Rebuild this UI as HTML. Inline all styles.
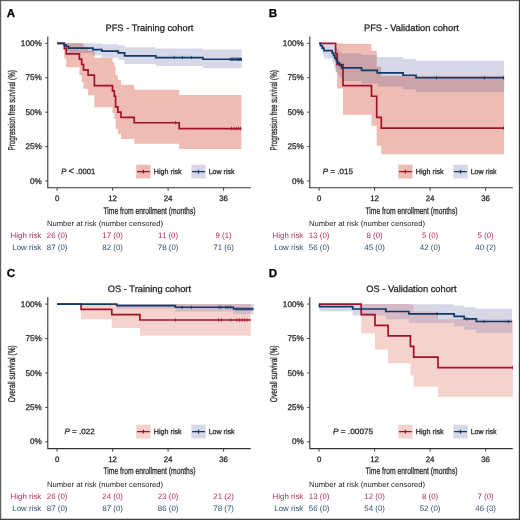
<!DOCTYPE html>
<html><head><meta charset="utf-8"><style>
html,body{margin:0;padding:0;background:#fff;}
svg{display:block;font-family:"Liberation Sans", sans-serif;will-change:transform;text-rendering:geometricPrecision;}
text{stroke-width:0.25px;paint-order:stroke;}
</style></head><body>
<svg width="520" height="520" viewBox="0 0 520 520">
<rect x="0" y="0" width="520" height="520" fill="#fff"/>
<g transform="translate(0,0)">
<text x="6.8" y="16.7" font-size="11.6" font-weight="bold" fill="#000" stroke="#000" stroke-width="0.3">A</text>
<text x="149.4" y="30.8" font-size="9.3" text-anchor="middle" fill="#222222" stroke="#222222" stroke-width="0.12">PFS - Training cohort</text>
<path d="M57.10,43.30H64.30V43.30H66.30V43.30H79.40V43.30H81.70V43.73H83.50V46.84H88.10V50.25H94.40V57.82H112.50V61.91H114.30V66.17H115.60V75.16H117.90V79.88H121.00V84.74H134.20V89.74H179.20V95.06H241.40V149.01H179.20V143.81H134.20V139.04H121.00V134.12H117.90V129.06H115.60V118.47H114.30V112.93H112.50V107.22H94.40V95.19H88.10V88.80H83.50V82.10H81.70V74.98H79.40V67.24H66.30V58.39H64.30V43.30H57.10Z" fill="rgb(238,188,178)"/>
<path d="M57.10,43.30H64.10V43.30H66.00V43.30H68.50V43.30H93.00V43.43H102.00V44.30H118.20V45.25H124.60V47.31H155.80V48.41H203.00V49.59H241.70V68.22H203.00V66.05H155.80V64.05H124.60V59.92H118.20V57.78H102.00V55.55H93.00V53.22H68.50V50.73H66.00V47.93H64.10V43.30H57.10Z" fill="rgb(214,216,232)"/>
<path d="M64.30,43.30H66.00V47.93H64.30ZM66.00,43.30H66.30V50.73H66.00ZM66.30,43.30H68.50V50.73H66.30ZM68.50,43.30H79.40V53.22H68.50ZM79.40,43.30H81.70V53.22H79.40ZM81.70,43.73H83.50V53.22H81.70ZM83.50,46.84H88.10V53.22H83.50ZM88.10,50.25H93.00V53.22H88.10ZM93.00,50.25H94.40V55.55H93.00Z" fill="rgb(203,162,168)"/>
<path d="M57.10,43.30H64.30V48.60H66.30V53.89H79.40V59.19H81.70V64.48H83.50V69.78H88.10V75.08H94.40V85.67H112.50V90.97H114.30V96.26H115.60V106.85H117.90V112.15H121.00V117.45H134.20V122.74H179.20V128.57H241.40" fill="none" stroke="#A3112B" stroke-width="1.7"/><path d="M175.50,121.04V124.44M231.50,126.87V130.27M234.00,126.87V130.27M236.50,126.87V130.27M238.50,126.87V130.27M240.50,126.87V130.27" stroke="#A3112B" stroke-width="0.8" fill="none"/>
<path d="M57.10,43.30H64.10V44.88H66.00V46.47H68.50V48.05H93.00V49.63H102.00V51.21H118.20V52.80H124.60V55.96H155.80V57.54H203.00V59.26H241.70" fill="none" stroke="#103A66" stroke-width="1.7"/><path d="M174.20,55.84V59.24M182.40,55.84V59.24M191.40,55.84V59.24M230.20,57.56V60.96M231.30,57.56V60.96M232.50,57.56V60.96M233.80,57.56V60.96M235.00,57.56V60.96M236.20,57.56V60.96M237.30,57.56V60.96M238.50,57.56V60.96M239.60,57.56V60.96M240.70,57.56V60.96M241.50,57.56V60.96" stroke="#103A66" stroke-width="0.8" fill="none"/>
<path d="M47.8,36.5V187.8H250.8" fill="none" stroke="#333333" stroke-width="1.1"/>
<path d="M45.2,43.30H47.8M45.2,77.73H47.8M45.2,112.15H47.8M45.2,146.57H47.8M45.2,181.00H47.8M57.10,187.8V190.8M112.60,187.8V190.8M168.10,187.8V190.8M223.60,187.8V190.8" stroke="#333333" stroke-width="0.9"/>
<text x="41.8" y="46.00" font-size="8.2" text-anchor="end" fill="#222222"  stroke="#222222" stroke-width="0.12">100%</text>
<text x="41.8" y="80.43" font-size="8.2" text-anchor="end" fill="#222222"  stroke="#222222" stroke-width="0.12">75%</text>
<text x="41.8" y="114.85" font-size="8.2" text-anchor="end" fill="#222222"  stroke="#222222" stroke-width="0.12">50%</text>
<text x="41.8" y="149.27" font-size="8.2" text-anchor="end" fill="#222222"  stroke="#222222" stroke-width="0.12">25%</text>
<text x="41.8" y="183.70" font-size="8.2" text-anchor="end" fill="#222222"  stroke="#222222" stroke-width="0.12">0%</text>
<text x="57.10" y="200.9" font-size="7.9" text-anchor="middle" fill="#222222" stroke="#222222" stroke-width="0.12">0</text>
<text x="112.60" y="200.9" font-size="7.9" text-anchor="middle" fill="#222222" stroke="#222222" stroke-width="0.12">12</text>
<text x="168.10" y="200.9" font-size="7.9" text-anchor="middle" fill="#222222" stroke="#222222" stroke-width="0.12">24</text>
<text x="223.60" y="200.9" font-size="7.9" text-anchor="middle" fill="#222222" stroke="#222222" stroke-width="0.12">36</text>
<text x="149.5" y="213.6" font-size="9.5" text-anchor="middle" fill="#222222" textLength="92" lengthAdjust="spacingAndGlyphs" stroke="#222222">Time from enrollment (months)</text>
<text transform="translate(14.8,110.3) rotate(-90)" font-size="9.8" text-anchor="middle" fill="#222222" textLength="80.2" lengthAdjust="spacingAndGlyphs" stroke="#222222">Progression free survival (%)</text>
<text x="61.30" y="174.10" font-size="7.7" fill="#222222" textLength="33.90" lengthAdjust="spacingAndGlyphs" stroke="#222222" stroke-width="0.12"><tspan font-style="italic">P</tspan> <tspan font-size="9.4"><</tspan> .0001</text>
<g transform="translate(0,0)">
<rect x="136.2" y="164.7" width="14.4" height="13.8" fill="rgb(238,188,178)"/>
<path d="M137,171.6H149.8M143.4,169.7V173.5" stroke="#A3112B" stroke-width="1.3"/>
<text x="153.8" y="174.4" font-size="7.3" fill="#222222" textLength="27.9" lengthAdjust="spacingAndGlyphs" stroke="#222222" stroke-width="0.12">High risk</text>
<rect x="191.3" y="164.7" width="14.4" height="13.8" fill="rgb(214,216,232)"/>
<path d="M192.1,171.6H204.9M198.5,169.7V173.5" stroke="#103A66" stroke-width="1.3"/>
<text x="208.7" y="174.4" font-size="7.3" fill="#222222" textLength="25.9" lengthAdjust="spacingAndGlyphs" stroke="#222222" stroke-width="0.12">Low risk</text>
</g>
<text x="47" y="226.4" font-size="7.6" fill="#222222" textLength="116" lengthAdjust="spacingAndGlyphs">Number at risk (number censored)</text>
<text x="41.3" y="238.4" font-size="7.9" text-anchor="end" fill="#B03054">High risk</text>
<text x="41.3" y="250.4" font-size="7.9" text-anchor="end" fill="#2E5170">Low risk</text>
<text x="57.10" y="238.4" font-size="7.9" text-anchor="middle" fill="#B03054">26 (0)</text>
<text x="112.60" y="238.4" font-size="7.9" text-anchor="middle" fill="#B03054">17 (0)</text>
<text x="168.10" y="238.4" font-size="7.9" text-anchor="middle" fill="#B03054">11 (0)</text>
<text x="223.60" y="238.4" font-size="7.9" text-anchor="middle" fill="#B03054">9 (1)</text>
<text x="57.10" y="250.4" font-size="7.9" text-anchor="middle" fill="#2E5170">87 (0)</text>
<text x="112.60" y="250.4" font-size="7.9" text-anchor="middle" fill="#2E5170">82 (0)</text>
<text x="168.10" y="250.4" font-size="7.9" text-anchor="middle" fill="#2E5170">78 (0)</text>
<text x="223.60" y="250.4" font-size="7.9" text-anchor="middle" fill="#2E5170">71 (6)</text>
</g><g transform="translate(262,0)">
<text x="6.8" y="16.7" font-size="11.6" font-weight="bold" fill="#000" stroke="#000" stroke-width="0.3">B</text>
<text x="149.4" y="30.8" font-size="9.3" text-anchor="middle" fill="#222222" stroke="#222222" stroke-width="0.12">PFS - Validation cohort</text>
<path d="M57.10,43.30H73.60V43.30H75.10V43.30H81.00V44.03H109.50V50.77H114.70V66.67H119.30V75.66H242.10V154.37H119.30V145.67H114.70V125.86H109.50V114.65H81.00V88.59H75.10V72.35H73.60V43.30H57.10Z" fill="rgb(238,188,178)"/>
<path d="M57.10,43.30H58.50V43.30H60.30V43.30H62.00V43.30H70.20V43.50H71.50V44.88H72.80V46.38H74.20V47.97H75.60V49.65H77.50V51.40H79.50V53.20H99.60V55.05H115.20V56.95H141.10V58.89H154.10V60.87H242.10V92.22H154.10V89.45H141.10V86.64H115.20V83.79H99.60V80.89H79.50V77.95H77.50V74.94H75.60V71.87H74.20V68.72H72.80V65.47H71.50V62.09H70.20V58.55H62.00V54.74H60.30V50.45H58.50V43.30H57.10Z" fill="rgb(214,216,232)"/>
<path d="M73.60,46.38H74.20V68.72H73.60ZM74.20,47.97H75.10V71.87H74.20ZM75.10,47.97H75.60V71.87H75.10ZM75.60,49.65H77.50V74.94H75.60ZM77.50,51.40H79.50V77.95H77.50ZM79.50,53.20H81.00V80.89H79.50ZM81.00,53.20H99.60V80.89H81.00ZM99.60,55.05H109.50V83.79H99.60ZM109.50,55.05H114.70V83.79H109.50ZM114.70,66.67H115.20V83.79H114.70ZM115.20,66.67H119.30V86.64H115.20ZM119.30,75.66H141.10V86.64H119.30ZM141.10,75.66H154.10V89.45H141.10ZM154.10,75.66H242.10V92.22H154.10Z" fill="rgb(203,162,168)"/>
<path d="M57.10,43.30H73.60V53.89H75.10V64.48H81.00V85.67H109.50V96.26H114.70V117.45H119.30V128.04H242.10" fill="none" stroke="#A3112B" stroke-width="1.7"/><path d="M241.50,126.34V129.74" stroke="#A3112B" stroke-width="0.8" fill="none"/>
<path d="M57.10,43.30H58.50V45.76H60.30V48.22H62.00V50.68H70.20V53.14H71.50V55.59H72.80V58.05H74.20V60.51H75.60V62.97H77.50V65.43H79.50V67.89H99.60V70.35H115.20V72.81H141.10V75.27H154.10V77.73H242.10" fill="none" stroke="#103A66" stroke-width="1.7"/><path d="M174.50,76.03V79.43M222.40,76.03V79.43M241.50,76.03V79.43" stroke="#103A66" stroke-width="0.8" fill="none"/>
<path d="M47.8,36.5V187.8H250.8" fill="none" stroke="#333333" stroke-width="1.1"/>
<path d="M45.2,43.30H47.8M45.2,77.73H47.8M45.2,112.15H47.8M45.2,146.57H47.8M45.2,181.00H47.8M57.10,187.8V190.8M112.60,187.8V190.8M168.10,187.8V190.8M223.60,187.8V190.8" stroke="#333333" stroke-width="0.9"/>
<text x="41.8" y="46.00" font-size="8.2" text-anchor="end" fill="#222222"  stroke="#222222" stroke-width="0.12">100%</text>
<text x="41.8" y="80.43" font-size="8.2" text-anchor="end" fill="#222222"  stroke="#222222" stroke-width="0.12">75%</text>
<text x="41.8" y="114.85" font-size="8.2" text-anchor="end" fill="#222222"  stroke="#222222" stroke-width="0.12">50%</text>
<text x="41.8" y="149.27" font-size="8.2" text-anchor="end" fill="#222222"  stroke="#222222" stroke-width="0.12">25%</text>
<text x="41.8" y="183.70" font-size="8.2" text-anchor="end" fill="#222222"  stroke="#222222" stroke-width="0.12">0%</text>
<text x="57.10" y="200.9" font-size="7.9" text-anchor="middle" fill="#222222" stroke="#222222" stroke-width="0.12">0</text>
<text x="112.60" y="200.9" font-size="7.9" text-anchor="middle" fill="#222222" stroke="#222222" stroke-width="0.12">12</text>
<text x="168.10" y="200.9" font-size="7.9" text-anchor="middle" fill="#222222" stroke="#222222" stroke-width="0.12">24</text>
<text x="223.60" y="200.9" font-size="7.9" text-anchor="middle" fill="#222222" stroke="#222222" stroke-width="0.12">36</text>
<text x="149.5" y="213.6" font-size="9.5" text-anchor="middle" fill="#222222" textLength="92" lengthAdjust="spacingAndGlyphs" stroke="#222222">Time from enrollment (months)</text>
<text transform="translate(14.8,110.3) rotate(-90)" font-size="9.8" text-anchor="middle" fill="#222222" textLength="80.2" lengthAdjust="spacingAndGlyphs" stroke="#222222">Progression free survival (%)</text>
<text x="60.80" y="174.10" font-size="7.7" fill="#222222" textLength="30.30" lengthAdjust="spacingAndGlyphs" stroke="#222222" stroke-width="0.12"><tspan font-style="italic">P</tspan> <tspan font-size="7.7">=</tspan> .015</text>
<g transform="translate(0,0)">
<rect x="136.2" y="164.7" width="14.4" height="13.8" fill="rgb(238,188,178)"/>
<path d="M137,171.6H149.8M143.4,169.7V173.5" stroke="#A3112B" stroke-width="1.3"/>
<text x="153.8" y="174.4" font-size="7.3" fill="#222222" textLength="27.9" lengthAdjust="spacingAndGlyphs" stroke="#222222" stroke-width="0.12">High risk</text>
<rect x="191.3" y="164.7" width="14.4" height="13.8" fill="rgb(214,216,232)"/>
<path d="M192.1,171.6H204.9M198.5,169.7V173.5" stroke="#103A66" stroke-width="1.3"/>
<text x="208.7" y="174.4" font-size="7.3" fill="#222222" textLength="25.9" lengthAdjust="spacingAndGlyphs" stroke="#222222" stroke-width="0.12">Low risk</text>
</g>
<text x="47" y="226.4" font-size="7.6" fill="#222222" textLength="116" lengthAdjust="spacingAndGlyphs">Number at risk (number censored)</text>
<text x="41.3" y="238.4" font-size="7.9" text-anchor="end" fill="#B03054">High risk</text>
<text x="41.3" y="250.4" font-size="7.9" text-anchor="end" fill="#2E5170">Low risk</text>
<text x="57.10" y="238.4" font-size="7.9" text-anchor="middle" fill="#B03054">13 (0)</text>
<text x="112.60" y="238.4" font-size="7.9" text-anchor="middle" fill="#B03054">8 (0)</text>
<text x="168.10" y="238.4" font-size="7.9" text-anchor="middle" fill="#B03054">5 (0)</text>
<text x="223.60" y="238.4" font-size="7.9" text-anchor="middle" fill="#B03054">5 (0)</text>
<text x="57.10" y="250.4" font-size="7.9" text-anchor="middle" fill="#2E5170">56 (0)</text>
<text x="112.60" y="250.4" font-size="7.9" text-anchor="middle" fill="#2E5170">45 (0)</text>
<text x="168.10" y="250.4" font-size="7.9" text-anchor="middle" fill="#2E5170">42 (0)</text>
<text x="223.60" y="250.4" font-size="7.9" text-anchor="middle" fill="#2E5170">40 (2)</text>
</g><g transform="translate(0,260.8)">
<text x="6.8" y="16.7" font-size="11.6" font-weight="bold" fill="#000" stroke="#000" stroke-width="0.3">C</text>
<text x="149.4" y="30.8" font-size="9.3" text-anchor="middle" fill="#222222" stroke="#222222" stroke-width="0.12">OS - Training cohort</text>
<path d="M57.10,43.30H81.10V43.30H111.80V43.30H139.90V43.30H250.80V74.98H139.90V67.24H111.80V58.39H81.10V43.30H57.10Z" fill="rgb(246,210,205)"/>
<path d="M57.10,43.30H116.80V43.30H175.40V43.30H233.50V43.30H253.70V53.52H233.50V50.73H175.40V47.93H116.80V43.30H57.10Z" fill="rgb(214,216,232)"/>
<path d="M116.80,43.30H139.90V47.93H116.80ZM139.90,43.30H175.40V47.93H139.90ZM175.40,43.30H233.50V50.73H175.40ZM233.50,43.30H250.80V53.52H233.50Z" fill="rgb(213,186,197)"/>
<path d="M57.10,43.30H81.10V48.60H111.80V53.89H139.90V59.19H250.80" fill="none" stroke="#A3112B" stroke-width="1.7"/><path d="M175.40,57.49V60.89M218.50,57.49V60.89M221.40,57.49V60.89M230.70,57.49V60.89M237.00,57.49V60.89M239.50,57.49V60.89M242.00,57.49V60.89M244.50,57.49V60.89M247.00,57.49V60.89" stroke="#A3112B" stroke-width="0.8" fill="none"/>
<path d="M57.10,43.30H116.80V44.88H175.40V46.47H233.50V48.19H253.70" fill="none" stroke="#103A66" stroke-width="1.7"/><path d="M182.00,44.77V48.17M191.30,44.77V48.17M219.20,44.77V48.17M221.00,44.77V48.17M226.00,44.77V48.17M228.00,44.77V48.17M230.70,44.77V48.17M236.00,46.49V49.89M238.00,46.49V49.89M240.00,46.49V49.89M242.00,46.49V49.89M244.00,46.49V49.89M246.00,46.49V49.89M248.00,46.49V49.89M250.00,46.49V49.89M252.00,46.49V49.89" stroke="#103A66" stroke-width="0.8" fill="none"/>
<path d="M47.8,36.5V187.8H250.8" fill="none" stroke="#333333" stroke-width="1.1"/>
<path d="M45.2,43.30H47.8M45.2,77.73H47.8M45.2,112.15H47.8M45.2,146.57H47.8M45.2,181.00H47.8M57.10,187.8V190.8M112.60,187.8V190.8M168.10,187.8V190.8M223.60,187.8V190.8" stroke="#333333" stroke-width="0.9"/>
<text x="41.8" y="46.00" font-size="8.2" text-anchor="end" fill="#222222"  stroke="#222222" stroke-width="0.12">100%</text>
<text x="41.8" y="80.43" font-size="8.2" text-anchor="end" fill="#222222"  stroke="#222222" stroke-width="0.12">75%</text>
<text x="41.8" y="114.85" font-size="8.2" text-anchor="end" fill="#222222"  stroke="#222222" stroke-width="0.12">50%</text>
<text x="41.8" y="149.27" font-size="8.2" text-anchor="end" fill="#222222"  stroke="#222222" stroke-width="0.12">25%</text>
<text x="41.8" y="183.70" font-size="8.2" text-anchor="end" fill="#222222"  stroke="#222222" stroke-width="0.12">0%</text>
<text x="57.10" y="200.9" font-size="7.9" text-anchor="middle" fill="#222222" stroke="#222222" stroke-width="0.12">0</text>
<text x="112.60" y="200.9" font-size="7.9" text-anchor="middle" fill="#222222" stroke="#222222" stroke-width="0.12">12</text>
<text x="168.10" y="200.9" font-size="7.9" text-anchor="middle" fill="#222222" stroke="#222222" stroke-width="0.12">24</text>
<text x="223.60" y="200.9" font-size="7.9" text-anchor="middle" fill="#222222" stroke="#222222" stroke-width="0.12">36</text>
<text x="149.5" y="213.6" font-size="9.5" text-anchor="middle" fill="#222222" textLength="92" lengthAdjust="spacingAndGlyphs" stroke="#222222">Time from enrollment (months)</text>
<text transform="translate(14.8,112.9) rotate(-90)" font-size="9.8" text-anchor="middle" fill="#222222" textLength="57.0" lengthAdjust="spacingAndGlyphs" stroke="#222222">Overall survival (%)</text>
<text x="64.50" y="173.10" font-size="7.7" fill="#222222" textLength="30.30" lengthAdjust="spacingAndGlyphs" stroke="#222222" stroke-width="0.12"><tspan font-style="italic">P</tspan> <tspan font-size="7.7">=</tspan> .022</text>
<g transform="translate(0,-0.8)">
<rect x="136.2" y="164.7" width="14.4" height="13.8" fill="rgb(246,210,205)"/>
<path d="M137,171.6H149.8M143.4,169.7V173.5" stroke="#A3112B" stroke-width="1.3"/>
<text x="153.8" y="174.4" font-size="7.3" fill="#222222" textLength="27.9" lengthAdjust="spacingAndGlyphs" stroke="#222222" stroke-width="0.12">High risk</text>
<rect x="191.3" y="164.7" width="14.4" height="13.8" fill="rgb(214,216,232)"/>
<path d="M192.1,171.6H204.9M198.5,169.7V173.5" stroke="#103A66" stroke-width="1.3"/>
<text x="208.7" y="174.4" font-size="7.3" fill="#222222" textLength="25.9" lengthAdjust="spacingAndGlyphs" stroke="#222222" stroke-width="0.12">Low risk</text>
</g>
<text x="47" y="226.4" font-size="7.6" fill="#222222" textLength="116" lengthAdjust="spacingAndGlyphs">Number at risk (number censored)</text>
<text x="41.3" y="238.4" font-size="7.9" text-anchor="end" fill="#B03054">High risk</text>
<text x="41.3" y="249.8" font-size="7.9" text-anchor="end" fill="#2E5170">Low risk</text>
<text x="57.10" y="238.4" font-size="7.9" text-anchor="middle" fill="#B03054">26 (0)</text>
<text x="112.60" y="238.4" font-size="7.9" text-anchor="middle" fill="#B03054">24 (0)</text>
<text x="168.10" y="238.4" font-size="7.9" text-anchor="middle" fill="#B03054">23 (0)</text>
<text x="223.60" y="238.4" font-size="7.9" text-anchor="middle" fill="#B03054">21 (2)</text>
<text x="57.10" y="249.8" font-size="7.9" text-anchor="middle" fill="#2E5170">87 (0)</text>
<text x="112.60" y="249.8" font-size="7.9" text-anchor="middle" fill="#2E5170">87 (0)</text>
<text x="168.10" y="249.8" font-size="7.9" text-anchor="middle" fill="#2E5170">86 (0)</text>
<text x="223.60" y="249.8" font-size="7.9" text-anchor="middle" fill="#2E5170">78 (7)</text>
</g><g transform="translate(262,260.8)">
<text x="6.8" y="16.7" font-size="11.6" font-weight="bold" fill="#000" stroke="#000" stroke-width="0.3">D</text>
<text x="149.4" y="30.8" font-size="9.3" text-anchor="middle" fill="#222222" stroke="#222222" stroke-width="0.12">OS - Validation cohort</text>
<path d="M57.10,43.30H99.20V43.30H113.00V43.30H126.10V43.30H148.40V44.03H151.70V50.77H176.00V58.35H250.80V136.18H176.00V125.86H151.70V114.65H148.40V102.35H126.10V88.59H113.00V72.35H99.20V43.30H57.10Z" fill="rgb(246,210,205)"/>
<path d="M57.10,43.30H57.50V43.30H90.70V43.30H123.80V43.30H146.80V43.50H192.20V44.88H202.20V46.39H214.30V48.02H250.00V72.19H214.30V68.88H202.20V65.55H192.20V62.09H146.80V58.55H123.80V54.74H90.70V50.45H57.50V43.30H57.10Z" fill="rgb(214,216,232)"/>
<path d="M99.20,43.30H113.00V54.74H99.20ZM113.00,43.30H123.80V54.74H113.00ZM123.80,43.30H126.10V58.55H123.80ZM126.10,43.30H146.80V58.55H126.10ZM146.80,43.50H148.40V62.09H146.80ZM148.40,44.03H151.70V62.09H148.40ZM151.70,50.77H176.00V62.09H151.70ZM176.00,58.35H192.20V62.09H176.00ZM192.20,58.35H202.20V65.55H192.20ZM202.20,58.35H214.30V68.88H202.20ZM214.30,58.35H250.00V72.19H214.30Z" fill="rgb(213,186,197)"/>
<path d="M57.10,43.30H99.20V53.89H113.00V64.48H126.10V75.08H148.40V85.67H151.70V96.26H176.00V106.85H250.80" fill="none" stroke="#A3112B" stroke-width="1.7"/><path d="M250.30,105.15V108.55" stroke="#A3112B" stroke-width="0.8" fill="none"/>
<path d="M57.10,43.30H57.50V45.76H90.70V48.22H123.80V50.68H146.80V53.14H192.20V55.64H202.20V58.15H214.30V60.71H250.00" fill="none" stroke="#103A66" stroke-width="1.7"/><path d="M175.20,51.44V54.84M204.80,56.45V59.85M222.10,59.01V62.41M246.40,59.01V62.41" stroke="#103A66" stroke-width="0.8" fill="none"/>
<path d="M47.8,36.5V187.8H250.8" fill="none" stroke="#333333" stroke-width="1.1"/>
<path d="M45.2,43.30H47.8M45.2,77.73H47.8M45.2,112.15H47.8M45.2,146.57H47.8M45.2,181.00H47.8M57.10,187.8V190.8M112.60,187.8V190.8M168.10,187.8V190.8M223.60,187.8V190.8" stroke="#333333" stroke-width="0.9"/>
<text x="41.8" y="46.00" font-size="8.2" text-anchor="end" fill="#222222"  stroke="#222222" stroke-width="0.12">100%</text>
<text x="41.8" y="80.43" font-size="8.2" text-anchor="end" fill="#222222"  stroke="#222222" stroke-width="0.12">75%</text>
<text x="41.8" y="114.85" font-size="8.2" text-anchor="end" fill="#222222"  stroke="#222222" stroke-width="0.12">50%</text>
<text x="41.8" y="149.27" font-size="8.2" text-anchor="end" fill="#222222"  stroke="#222222" stroke-width="0.12">25%</text>
<text x="41.8" y="183.70" font-size="8.2" text-anchor="end" fill="#222222"  stroke="#222222" stroke-width="0.12">0%</text>
<text x="57.10" y="200.9" font-size="7.9" text-anchor="middle" fill="#222222" stroke="#222222" stroke-width="0.12">0</text>
<text x="112.60" y="200.9" font-size="7.9" text-anchor="middle" fill="#222222" stroke="#222222" stroke-width="0.12">12</text>
<text x="168.10" y="200.9" font-size="7.9" text-anchor="middle" fill="#222222" stroke="#222222" stroke-width="0.12">24</text>
<text x="223.60" y="200.9" font-size="7.9" text-anchor="middle" fill="#222222" stroke="#222222" stroke-width="0.12">36</text>
<text x="149.5" y="213.6" font-size="9.5" text-anchor="middle" fill="#222222" textLength="92" lengthAdjust="spacingAndGlyphs" stroke="#222222">Time from enrollment (months)</text>
<text transform="translate(14.8,112.9) rotate(-90)" font-size="9.8" text-anchor="middle" fill="#222222" textLength="57.0" lengthAdjust="spacingAndGlyphs" stroke="#222222">Overall survival (%)</text>
<text x="71.10" y="173.10" font-size="7.7" fill="#222222" textLength="40.00" lengthAdjust="spacingAndGlyphs" stroke="#222222" stroke-width="0.12"><tspan font-style="italic">P</tspan> <tspan font-size="7.7">=</tspan> .00075</text>
<g transform="translate(0,-0.8)">
<rect x="136.2" y="164.7" width="14.4" height="13.8" fill="rgb(246,210,205)"/>
<path d="M137,171.6H149.8M143.4,169.7V173.5" stroke="#A3112B" stroke-width="1.3"/>
<text x="153.8" y="174.4" font-size="7.3" fill="#222222" textLength="27.9" lengthAdjust="spacingAndGlyphs" stroke="#222222" stroke-width="0.12">High risk</text>
<rect x="191.3" y="164.7" width="14.4" height="13.8" fill="rgb(214,216,232)"/>
<path d="M192.1,171.6H204.9M198.5,169.7V173.5" stroke="#103A66" stroke-width="1.3"/>
<text x="208.7" y="174.4" font-size="7.3" fill="#222222" textLength="25.9" lengthAdjust="spacingAndGlyphs" stroke="#222222" stroke-width="0.12">Low risk</text>
</g>
<text x="47" y="226.4" font-size="7.6" fill="#222222" textLength="116" lengthAdjust="spacingAndGlyphs">Number at risk (number censored)</text>
<text x="41.3" y="238.4" font-size="7.9" text-anchor="end" fill="#B03054">High risk</text>
<text x="41.3" y="249.8" font-size="7.9" text-anchor="end" fill="#2E5170">Low risk</text>
<text x="57.10" y="238.4" font-size="7.9" text-anchor="middle" fill="#B03054">13 (0)</text>
<text x="112.60" y="238.4" font-size="7.9" text-anchor="middle" fill="#B03054">12 (0)</text>
<text x="168.10" y="238.4" font-size="7.9" text-anchor="middle" fill="#B03054">8 (0)</text>
<text x="223.60" y="238.4" font-size="7.9" text-anchor="middle" fill="#B03054">7 (0)</text>
<text x="57.10" y="249.8" font-size="7.9" text-anchor="middle" fill="#2E5170">56 (0)</text>
<text x="112.60" y="249.8" font-size="7.9" text-anchor="middle" fill="#2E5170">54 (0)</text>
<text x="168.10" y="249.8" font-size="7.9" text-anchor="middle" fill="#2E5170">52 (0)</text>
<text x="223.60" y="249.8" font-size="7.9" text-anchor="middle" fill="#2E5170">46 (3)</text>
</g>
<g shape-rendering="crispEdges">
<rect x="0" y="1" width="520" height="1" fill="#000" fill-opacity="0.12"/>
<rect x="1" y="0" width="1" height="520" fill="#000" fill-opacity="0.12"/>
<rect x="518" y="0" width="1" height="520" fill="#000" fill-opacity="0.12"/>
<rect x="0" y="518" width="520" height="1" fill="#000" fill-opacity="0.22"/>
<rect x="0" y="0" width="520" height="1" fill="#606060"/>
<rect x="0" y="0" width="1" height="520" fill="#5c5f62"/>
<rect x="519" y="0" width="1" height="520" fill="#3c3c3c"/>
<rect x="0" y="519" width="520" height="1" fill="#444"/>
</g>
</svg>
</body></html>
